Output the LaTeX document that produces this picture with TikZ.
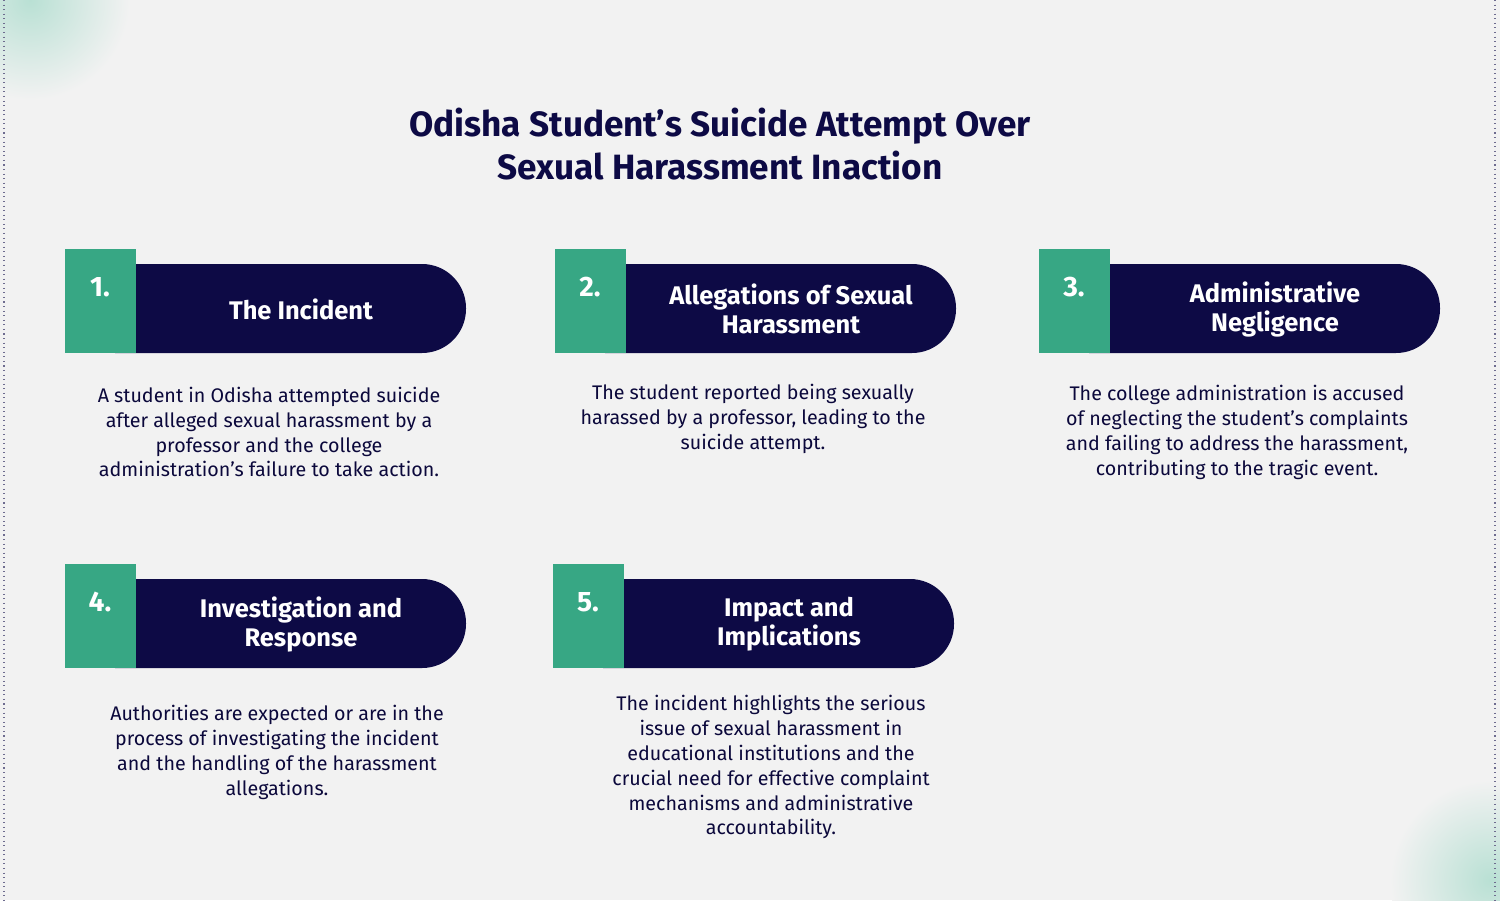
\documentclass[tikz,border=0pt]{standalone}
\usepackage{fontspec}
\setmainfont{Fira Sans}
\usepackage{tikz}
\definecolor{navy}{HTML}{0D0A45}
\definecolor{teal}{HTML}{37A784}
\definecolor{bgc}{HTML}{F2F2F2}
\tikzstyle{heading} = [font=\fontsize{20}{24}\selectfont\bfseries, text=navy, align=center]
\tikzstyle{cardtitle} = [font=\fontsize{14.5}{16.5}\selectfont\bfseries, text=white, align=center]
\tikzstyle{cardnum} = [font=\fontsize{16}{18}\selectfont\bfseries, text=white]
\tikzstyle{body} = [font=\fontsize{11.2}{14.2}\selectfont, text=navy!85!black, align=center]
% x0: left of green tab, y0: top of green tab
\newcommand{\card}[5]{%
  \fill[navy] (#2+50,#3+15) [rounded corners=0.88cm] -- (#2+401,#3+15) -- (#2+401,#3+104) [sharp corners] -- (#2+50,#3+104) -- cycle;
  \fill[teal] (#2,#3) rectangle (#2+71,#3+104);
  \node (#1num) [cardnum] at (#2+35,#3+38) {#4};
  \node (#1title) [cardtitle] at (#2+236,#3+60) {#5};
}
\begin{document}
\begin{tikzpicture}[x=0.02cm,y=-0.02cm]
\fill[bgc] (0,0) rectangle (1500,900);
\useasboundingbox (0,0) rectangle (1500,900);
\shade[inner color=teal!35, outer color=bgc] (30,0) circle (0.04cm*50);
\shade[inner color=teal!35, outer color=bgc] (1490,880) circle (0.04cm*50);
\draw[navy!60, dotted, line width=0.6pt] (4,0) -- (4,900);
\draw[navy!60, dotted, line width=0.6pt] (1495,0) -- (1495,900);

\node (head) [heading] at (720,144) {Odisha Student's Suicide Attempt Over\\Sexual Harassment Inaction};

\card{one}{65}{249}{1.}{The Incident}
\card{two}{555}{249}{2.}{Allegations of Sexual\\Harassment}
\card{three}{1039}{249}{3.}{Administrative\\Negligence}
\card{four}{65}{564}{4.}{Investigation and\\Response}
\card{five}{553}{564}{5.}{Impact and\\Implications}
\node at (onetitle) {};

\node (onebody) [body] at (269,432) {A student in Odisha attempted suicide\\after alleged sexual harassment by a\\professor and the college\\administration's failure to take action.};
\node (twobody) [body] at (753,419) {The student reported being sexually\\harassed by a professor, leading to the\\suicide attempt.};
\node (threebody) [body] at (1237,432) {The college administration is accused\\of neglecting the student's complaints\\and failing to address the harassment,\\contributing to the tragic event.};
\node (fourbody) [body] at (277,752) {Authorities are expected or are in the\\process of investigating the incident\\and the handling of the harassment\\allegations.};
\node (fivebody) [body] at (771,767) {The incident highlights the serious\\issue of sexual harassment in\\educational institutions and the\\crucial need for effective complaint\\mechanisms and administrative\\accountability.};
\end{tikzpicture}
\end{document}
